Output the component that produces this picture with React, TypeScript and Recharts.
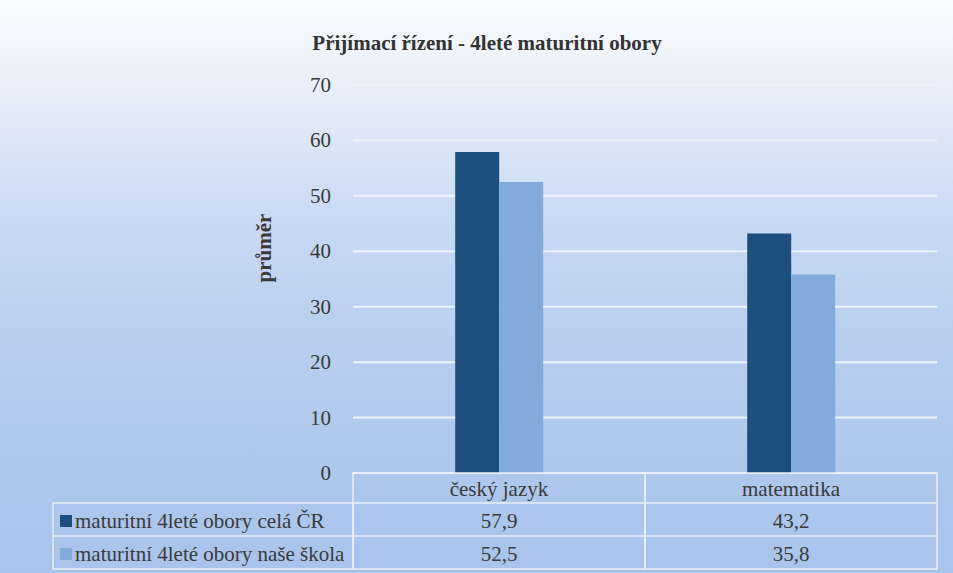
import React from "react";
import { BarChart, Bar, XAxis, YAxis, CartesianGrid } from "recharts";

const categories = ["český jazyk", "matematika"];
const seriesNames = ["maturitní 4leté obory celá ČR", "maturitní 4leté obory naše škola"];
const celaCR = [57.9, 43.2];
const naseSkola = [52.5, 35.8];
const yTicks = [0, 10, 20, 30, 40, 50, 60, 70];

const COLORS = ["#1d4f7e", "#82aadb"];
const W = 953;
const H = 573;
const PLOT_LEFT = 353;
const PLOT_RIGHT = 937;
const PLOT_TOP = 85;
const PLOT_BOTTOM = 473;
const LEGEND_LEFT = 53;
const ROW_H = [30, 33, 33];
const FONT = "'Liberation Serif', 'Times New Roman', serif";
const TEXT_COLOR = "#3a3a3a";
const BORDER = "#e9eef7";
const textStyle = { fontFamily: FONT, fontSize: 21 };

const data = categories.map((c, i) => ({ category: c, cela: celaCR[i], nase: naseSkola[i] }));
const seriesValues = [celaCR, naseSkola];
const fmt = (v: number) => v.toFixed(1).replace(".", ",");

const TableTick = (props: any) => {
  const { x, payload, index } = props;
  const bw = (PLOT_RIGHT - PLOT_LEFT) / categories.length;
  const left = x - bw / 2;
  const top = PLOT_BOTTOM;
  const idx = categories.indexOf(payload.value);
  const r1 = top + ROW_H[0];
  const r2 = r1 + ROW_H[1];
  const r3 = r2 + ROW_H[2];
  return (
    <g fill={TEXT_COLOR}>
      <rect x={left} y={top} width={bw} height={r3 - top} fill="none" stroke={BORDER} strokeWidth={1.5} />
      <line x1={left} x2={left + bw} y1={r1} y2={r1} stroke={BORDER} strokeWidth={1.5} />
      <line x1={left} x2={left + bw} y1={r2} y2={r2} stroke={BORDER} strokeWidth={1.5} />
      <text x={x} y={top + 23} textAnchor="middle" style={textStyle} fill={TEXT_COLOR}>{payload.value}</text>
      {seriesValues.map((vals, s) => (
        <text key={s} x={x} y={(s === 0 ? r1 : r2) + 25} textAnchor="middle" style={textStyle} fill={TEXT_COLOR}>
          {fmt(vals[idx])}
        </text>
      ))}
      {index === 0 && (
        <g>
          <rect x={LEGEND_LEFT} y={r1} width={left - LEGEND_LEFT} height={r3 - r1} fill="none" stroke={BORDER} strokeWidth={1.5} />
          <line x1={LEGEND_LEFT} x2={left} y1={r2} y2={r2} stroke={BORDER} strokeWidth={1.5} />
          {seriesNames.map((n, s) => {
            const ry = s === 0 ? r1 : r2;
            return (
              <g key={n}>
                <rect x={LEGEND_LEFT + 7} y={ry + 12} width={12} height={12} fill={COLORS[s]} />
                <text x={LEGEND_LEFT + 22} y={ry + 25} textAnchor="start" style={textStyle} fill={TEXT_COLOR}>{n}</text>
              </g>
            );
          })}
        </g>
      )}
    </g>
  );
};

const YTick = (props: any) => {
  const { x, y, payload } = props;
  return (
    <text x={x} y={y} dy={7} textAnchor="end" style={{ fontFamily: FONT, fontSize: 21 }} fill={TEXT_COLOR}>
      {payload.value}
    </text>
  );
};

const YLabel = () => {
  const cx = 264;
  const cy = 248;
  return (
    <text x={cx} y={cy} dy={7} transform={`rotate(-90, ${cx}, ${cy})`} textAnchor="middle"
      style={{ fontFamily: FONT, fontSize: 21, fontWeight: "bold" }} fill={TEXT_COLOR}>
      průměr
    </text>
  );
};

export default function App() {
  return (
    <div
      style={{
        position: "fixed",
        left: 0,
        top: 0,
        width: W,
        height: H,
        background:
          "linear-gradient(180deg, #fbfcfe 0%, #f1f5fb 8%, #dfe8f7 22%, #c9daf3 38%, #bcd0f0 55%, #b2c9ee 75%, #a9c3eb 100%)",
        overflow: "hidden",
      }}
    >
      <div
        style={{
          position: "absolute",
          left: 0,
          top: 30,
          width: 974,
          textAlign: "center",
          fontFamily: FONT,
          fontWeight: "bold",
          fontSize: 21,
          color: "#333333",
          lineHeight: "26px",
        }}
      >
        Přijímací řízení - 4leté maturitní obory
      </div>
      <div style={{ position: "absolute", left: 0, top: 0 }}>
        <BarChart
          width={W}
          height={H}
          data={data}
          margin={{ top: PLOT_TOP, right: W - PLOT_RIGHT, left: 0, bottom: 0 }}
          barCategoryGap="35%"
          barGap={0}
        >
          <CartesianGrid vertical={false} stroke="#eef3fb" strokeWidth={2} />
          <YAxis
            width={PLOT_LEFT}
            domain={[0, 70]}
            ticks={yTicks}
            axisLine={false}
            tickLine={false}
            tickMargin={16}
            tick={<YTick />}
            label={<YLabel />}
          />
          <XAxis
            dataKey="category"
            height={H - PLOT_BOTTOM}
            axisLine={false}
            tickLine={false}
            tickSize={0}
            tickMargin={0}
            interval={0}
            tick={<TableTick />}
          />
          <Bar dataKey="cela" name={seriesNames[0]} fill={COLORS[0]} isAnimationActive={false} />
          <Bar dataKey="nase" name={seriesNames[1]} fill={COLORS[1]} isAnimationActive={false} />
        </BarChart>
      </div>
    </div>
  );
}
